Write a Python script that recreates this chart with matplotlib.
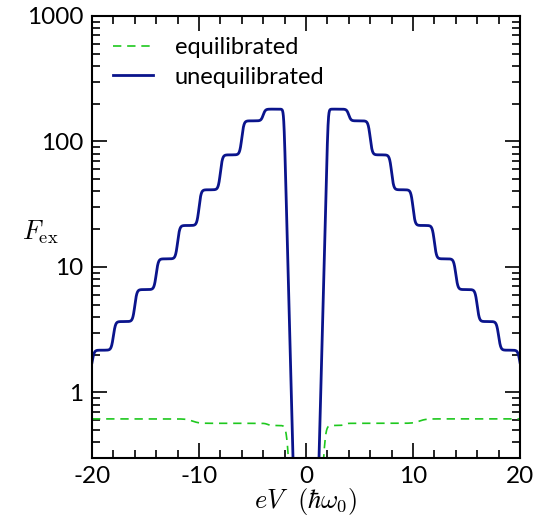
import numpy as np
import matplotlib
matplotlib.use("Agg")
import matplotlib.pyplot as plt
from matplotlib.ticker import FixedLocator, NullFormatter, MultipleLocator

# data (symmetric in eV, given for |eV|)
# unequilibrated: step edges and plateau levels, outermost first
blue_edges = [20, 18, 16, 14, 12, 10, 8, 6, 4]
blue_levels = [1.38, 2.17, 3.67, 6.6, 11.6, 21.4, 41.2, 78.2, 146, 181]
blue_dip = {"x0": 2.07, "slope": 3.25}   # decades per eV below x0

# equilibrated
green_edges = [10.6, 3.6]
green_levels = [0.615, 0.567, 0.545]
green_dip = {"x0": 1.8, "slope": 1.5}

y_ticks = [1, 10, 100, 1000]
x_ticks = [-20, -10, 0, 10, 20]


def staircase(a, edges, levels, widths, dip, k):
    lg = np.full_like(a, np.log10(levels[0]))
    for e, w, lo, hi in zip(edges, widths, levels[:-1], levels[1:]):
        lg += (np.log10(hi) - np.log10(lo)) * 0.5 * (1 - np.tanh((a - e) / w))
    lg -= dip["slope"] * np.logaddexp(0, k * (dip["x0"] - a)) / k
    return 10 ** lg


x = np.linspace(-20, 20, 8001)
a = np.abs(x)
f_blue = staircase(a, blue_edges, blue_levels, [0.2] * 9, blue_dip, 20)
f_green = staircase(a, green_edges, green_levels, [0.6, 0.25], green_dip, 10)

plt.rcParams["axes.unicode_minus"] = False
plt.rcParams["font.family"] = ["Lato", "DejaVu Sans"]
plt.rcParams["mathtext.fontset"] = "cm"

fig = plt.figure(figsize=(5.33, 5.18), dpi=100)
ax = fig.add_axes([92 / 533, 1 - 458 / 518, 428 / 533, 442 / 518])

ax.plot(x, f_green, color="#1ec81e", lw=1.2, dashes=(5, 3.5), label="equilibrated")
ax.plot(x, f_blue, color="#0a148c", lw=2.0, label="unequilibrated")

ax.set_yscale("log")
ax.set_xlim(-20, 20)
ax.set_ylim(0.3, 1000)
ax.yaxis.set_major_locator(FixedLocator(y_ticks))
ax.set_yticklabels([str(t) for t in y_ticks])
ax.yaxis.set_minor_formatter(NullFormatter())
ax.set_xticks(x_ticks)
ax.set_xticklabels([str(t) for t in x_ticks])
ax.xaxis.set_minor_locator(MultipleLocator(2))

ax.tick_params(which="both", direction="in", top=True, right=True, width=1.2,
               labelsize=17.5, pad=6)
ax.tick_params(which="major", length=10.5)
ax.tick_params(which="minor", length=5.5)
for s in ax.spines.values():
    s.set_linewidth(1.5)

ax.set_xlabel(r"$eV\ \ (\hbar\omega_0)$", fontsize=19, labelpad=-1)
ax.set_ylabel(r"$F_{\rm ex}$", fontsize=19, rotation=0, labelpad=14)
ax.yaxis.set_label_coords(-0.12, 0.48)

ax.legend(loc="upper left", frameon=False, fontsize=17, handlelength=1.7,
          handletextpad=0.9, borderaxespad=0.5, labelspacing=0.35)

fig.savefig("out.png", dpi=100)
